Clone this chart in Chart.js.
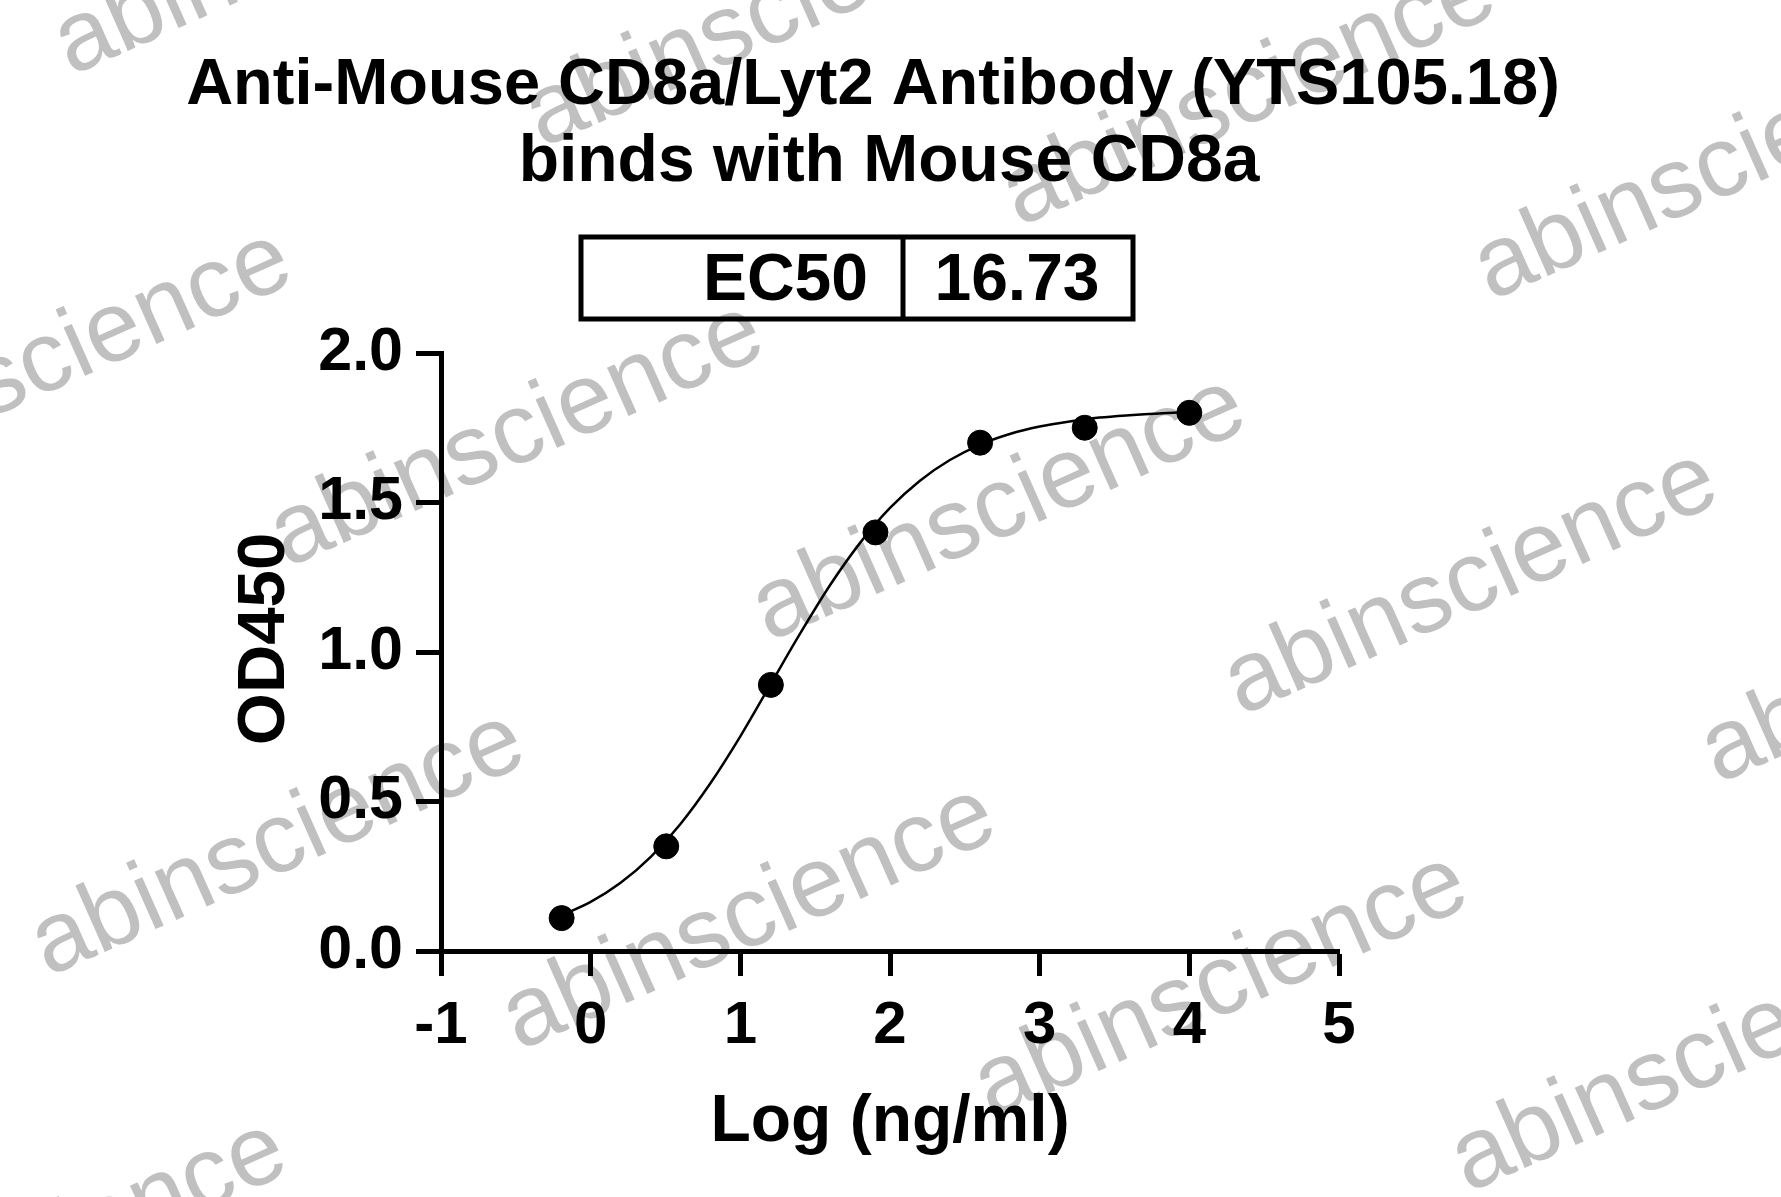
<!DOCTYPE html>
<html>
<head>
<meta charset="utf-8">
<script src="https://cdn.jsdelivr.net/npm/chart.js@4.4.1/dist/chart.umd.min.js"></script>
<style>
  html, body { margin: 0; padding: 0; background: #fff; }
  canvas { display: block; }
</style>
</head>
<body>
<canvas id="ec50Chart" width="1781" height="1197"></canvas>
<script>
// Measured points: log concentration (ng/ml) vs OD450
var logConc = [-0.194, 0.505, 1.204, 1.903, 2.602, 3.301, 4.0];
var od450 = [0.11, 0.35, 0.89, 1.40, 1.70, 1.75, 1.80];

// Fitted curve
var curveX = [-0.2, 0.0, 0.2, 0.4, 0.6, 0.8, 1.0, 1.2, 1.4, 1.6, 1.8, 2.0, 2.2, 2.4, 2.6, 2.8, 3.0, 3.2, 3.4, 3.6, 3.8, 4.0];
var curveY = [0.118, 0.164, 0.228, 0.314, 0.425, 0.561, 0.718, 0.890, 1.062, 1.224, 1.365, 1.482, 1.573, 1.642, 1.693, 1.729, 1.754, 1.771, 1.784, 1.792, 1.798, 1.802];

var xTicks = [-1, 0, 1, 2, 3, 4, 5];
var yTicks = [0, 0.5, 1.0, 1.5, 2.0];

var titleLines = ['Anti-Mouse CD8a/Lyt2 Antibody (YTS105.18)', 'binds with Mouse CD8a'];
var ec50Label = 'EC50';
var ec50Value = '16.73';
var xTitle = 'Log (ng/ml)';
var yTitle = 'OD450';

var FONT = '"Liberation Sans", Arial, Helvetica, sans-serif';

// watermark anchors (decoration)
var marks = [
  [-190, 1386], [48, 977], [519, 1051], [991, 1119], [1468, 1193],
  [-185, 496], [287, 568], [769, 642], [1241, 716], [1718, 784],
  [71, 76], [542, 148], [1019, 227], [1491, 301]
];

function toPts(xs, ys) {
  return xs.map(function (x, i) { return { x: x, y: ys[i] }; });
}

var decor = {
  id: 'decor',
  beforeDraw: function (chart) {
    var ctx = chart.ctx;
    ctx.save();
    ctx.fillStyle = '#fff';
    ctx.fillRect(0, 0, chart.width, chart.height);
    ctx.fillStyle = '#c0c0c0';
    ctx.font = '100px ' + FONT;
    ctx.textBaseline = 'alphabetic';
    ctx.textAlign = 'left';
    marks.forEach(function (m) {
      ctx.save();
      ctx.translate(m[0], m[1]);
      ctx.rotate(-24 * Math.PI / 180);
      ctx.fillText('abinscience', 0, 0);
      ctx.restore();
    });
    ctx.restore();
  },
  afterDraw: function (chart) {
    var ctx = chart.ctx;
    ctx.save();
    ctx.fillStyle = '#000';
    ctx.textBaseline = 'alphabetic';
    ctx.textAlign = 'center';
    ctx.font = 'bold 65px ' + FONT;
    ctx.fillText(titleLines[0], 873, 104);
    ctx.font = 'bold 66px ' + FONT;
    ctx.fillText(titleLines[1], 889, 181);

    // EC50 table
    ctx.lineWidth = 5;
    ctx.strokeStyle = '#000';
    ctx.strokeRect(581, 237, 552, 82);
    ctx.beginPath();
    ctx.moveTo(903, 237);
    ctx.lineTo(903, 319);
    ctx.stroke();
    ctx.textAlign = 'right';
    ctx.fillText(ec50Label, 868, 300);
    ctx.textAlign = 'center';
    ctx.fillText(ec50Value, 1017, 300);

    // axis titles
    ctx.fillText(xTitle, 890, 1141);
    ctx.font = 'bold 67px ' + FONT;
    ctx.save();
    ctx.translate(284, 639);
    ctx.rotate(-Math.PI / 2);
    ctx.fillText(yTitle, 0, 0);
    ctx.restore();
    ctx.restore();
  }
};

var ctx = document.getElementById('ec50Chart').getContext('2d');
new Chart(ctx, {
  type: 'scatter',
  data: {
    datasets: [
      {
        type: 'line',
        data: toPts(curveX, curveY),
        borderColor: '#000',
        borderWidth: 2.5,
        pointRadius: 0,
        fill: false,
        cubicInterpolationMode: 'monotone',
        order: 2
      },
      {
        data: toPts(logConc, od450),
        backgroundColor: '#000',
        borderColor: '#000',
        pointRadius: 12.5,
        pointHoverRadius: 12.5,
        order: 1
      }
    ]
  },
  options: {
    responsive: false,
    animation: false,
    devicePixelRatio: 1,
    layout: { padding: { left: 0, top: 353, right: 442, bottom: 0 } },
    plugins: {
      legend: { display: false },
      tooltip: { enabled: false }
    },
    scales: {
      x: {
        type: 'linear',
        min: -1,
        max: 5,
        afterFit: function (s) { s.height = 246; },
        afterBuildTicks: function (s) { s.ticks = xTicks.map(function (v) { return { value: v }; }); },
        grid: { drawOnChartArea: false, drawTicks: true, tickLength: 25, tickWidth: 5, tickColor: '#000' },
        border: { display: true, width: 5, color: '#000' },
        ticks: {
          color: '#000',
          padding: 14,
          maxRotation: 0,
          font: { family: FONT, size: 60, weight: 'bold' },
          callback: function (v) { return String(v); }
        }
      },
      y: {
        type: 'linear',
        min: 0,
        max: 2,
        afterFit: function (s) { s.width = 441; },
        afterBuildTicks: function (s) { s.ticks = yTicks.map(function (v) { return { value: v }; }); },
        grid: { drawOnChartArea: false, drawTicks: true, tickLength: 25, tickWidth: 5, tickColor: '#000' },
        border: { display: true, width: 5, color: '#000' },
        ticks: {
          color: '#000',
          padding: 13,
          font: { family: FONT, size: 61, weight: 'bold' },
          callback: function (v) { return v.toFixed(1); }
        }
      }
    }
  },
  plugins: [decor]
});
</script>
</body>
</html>
